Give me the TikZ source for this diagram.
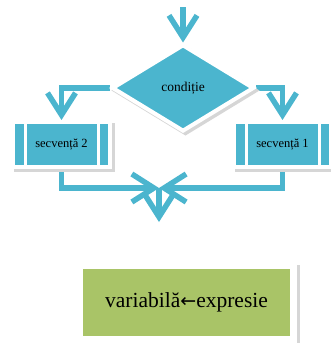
\documentclass[tikz,border=0pt]{standalone}
\usepackage{fontspec}
\setmainfont{Liberation Serif}
\newfontfamily\arrowfont{DejaVu Sans}
\usetikzlibrary{shapes.geometric,arrows.meta,shadows,backgrounds}

\definecolor{flowblue}{HTML}{4BB5CE}
\definecolor{flowgreen}{HTML}{A9C467}

\tikzset{
  boxshadow/.style={general shadow={shadow xshift=2.5pt,shadow yshift=-2.5pt,fill=black!16,draw=black!16}},
  decision/.style={diamond,fill=flowblue,draw=white,line width=4pt,minimum width=142pt,minimum height=87pt,
    inner sep=0pt,boxshadow,font=\fontsize{13.5}{15}\selectfont},
  seqbox/.style={rectangle,fill=flowblue,draw=white,line width=4pt,minimum width=97pt,minimum height=45pt,
    inner sep=0pt,boxshadow,font=\fontsize{12.5}{14}\selectfont,
    path picture={
      \draw[white,line width=3pt] ([xshift=12pt]path picture bounding box.north west) -- ([xshift=12pt]path picture bounding box.south west);
      \draw[white,line width=3pt] ([xshift=-12pt]path picture bounding box.north east) -- ([xshift=-12pt]path picture bounding box.south east);}},
  assignbox/.style={rectangle,fill=flowgreen,draw=white,line width=7pt,minimum width=214pt,minimum height=74pt,
    inner sep=0pt,boxshadow,font=\fontsize{21.5}{24}\selectfont},
  flow/.style={flowblue,line width=5.5pt,-{Straight Barb[length=22pt,width=28pt,line width=5.5pt]}}
}

\begin{document}
\begin{tikzpicture}[x=1pt,y=-1pt]
  \useasboundingbox (0,0) rectangle (331,343);

  \node[decision] (cond) at (183,88) {condiție};

  \node[seqbox] (seq2) at (61.5,144.5) {secvență 2};
  \node[seqbox] (seq1) at (282.5,144.5) {secvență 1};

  \node[assignbox] (assign) at (186.5,302.5) {variabilă{\arrowfont\fontsize{19}{24}\selectfont ←}expresie};

  \coordinate (start) at (183,7);
  \coordinate (merge) at (159,188);
  \coordinate (stop) at (159,222);

  \begin{scope}[on background layer]
    \draw[flow] (start) -- (cond.north);
    \draw[flow] (cond.west) -| (seq2.north);
    \draw[flow] (cond.east) -| (seq1.north);
    \draw[flow] (seq2.south) |- (merge);
    \draw[flow] (seq1.south) |- (merge);
    \draw[flow] (merge) -- (stop);
  \end{scope}
\end{tikzpicture}
\end{document}
